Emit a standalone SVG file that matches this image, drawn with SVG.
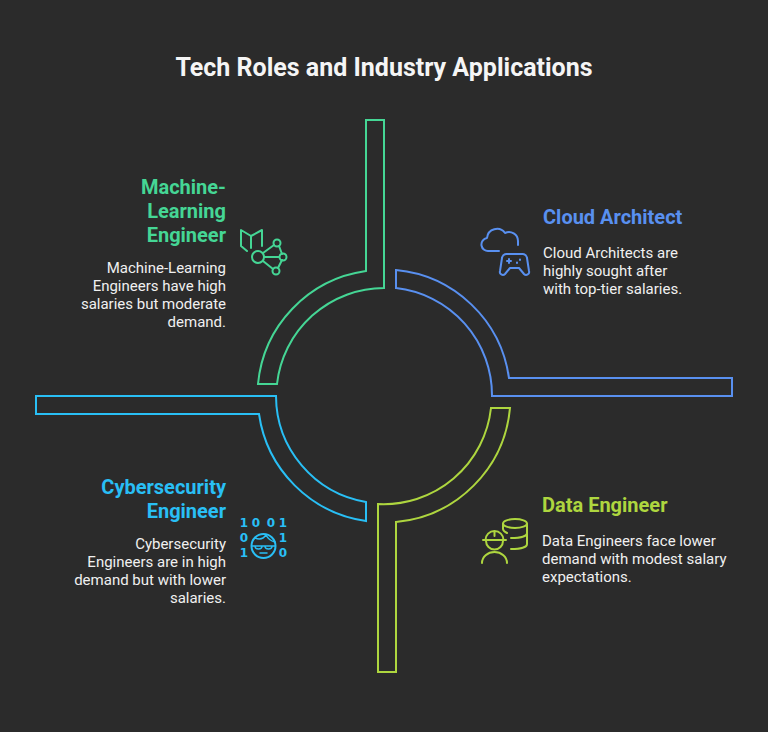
<svg xmlns="http://www.w3.org/2000/svg" width="768" height="732" viewBox="0 0 768 732">
<style>
text{font-family:Roboto,"Liberation Sans",sans-serif}
.t{font-size:25px;font-weight:700;fill:#f5f5f5}
.h{font-size:20px;font-weight:700}
.b{font-size:15px;fill:#f0f0f0}
.e{text-anchor:end}
.s{fill:none;stroke-width:2}
.i{fill:none;stroke-width:2;stroke-linecap:round;stroke-linejoin:round}
.d{font-family:"DejaVu Sans",sans-serif;font-size:12px;font-weight:700;fill:#29bff5;text-anchor:middle}
</style>
<rect width="768" height="732" fill="#2b2b2b"/>
<text class="t" x="384" y="76" text-anchor="middle">Tech Roles and Industry Applications</text>
<g id="connectors">
<path class="s" stroke="#45d695" d="M366 120H384V288A108 108 0 0 0 277 384H258A126 126 0 0 1 366 271Z"/>
<path class="s" stroke="#5990f0" d="M396 270V288A108 108 0 0 1 492 396H732V378H509A126 126 0 0 0 396 270Z"/>
<path class="s" stroke="#aed63f" d="M510 408H491A108 108 0 0 1 378 504V672H396V522A126 126 0 0 0 510 408Z"/>
<path class="s" stroke="#29bff5" d="M36 396H276A108 108 0 0 0 366 502V521A126 126 0 0 1 259 414H36Z"/>
</g>
<g id="node-ml">
<text class="h e" fill="#45d695"><tspan x="226" y="194">Machine-</tspan><tspan x="226" y="218">Learning</tspan><tspan x="226" y="242">Engineer</tspan></text>
<text class="b e"><tspan x="226" y="273">Machine-Learning</tspan><tspan x="226" y="291">Engineers have high</tspan><tspan x="226" y="309">salaries but moderate</tspan><tspan x="226" y="327">demand.</tspan></text>
<g class="i" stroke="#45d695">
<path d="M251 236L241 230V246L247 251M251 236L262 230V246M251 236V248"/>
<circle cx="258" cy="257" r="6"/><circle cx="277" cy="243" r="3.5"/><circle cx="283" cy="257" r="3.5"/><circle cx="276" cy="271" r="3.5"/>
<path d="M264 257H279M263 253L274 245M263 261L273 269M279 246L282 254M282 260L278 268"/>
</g>
</g>
<g id="node-cloud">
<text class="h" fill="#5990f0" x="543" y="224">Cloud Architect</text>
<text class="b"><tspan x="543" y="258">Cloud Architects are</tspan><tspan x="543" y="276">highly sought after</tspan><tspan x="543" y="294">with top-tier salaries.</tspan></text>
<g class="i" stroke="#5990f0">
<path d="M499 251H489A6.500 6.500 0 0 1 487 238A10 10 0 0 1 505 233A9 9 0 0 1 518 241V245"/>
<path d="M507 254H522A4.500 4.500 0 0 1 527 258L529 271A3 3 0 0 1 524 274L519 268H510L505 274A3 3 0 0 1 500 271L502 258A4.500 4.500 0 0 1 507 254Z"/>
<path d="M507 261H511M509 259V263M520 259.500V260M517 262.500V263"/>
</g>
</g>
<g id="node-data">
<text class="h" fill="#aed63f" x="542" y="512">Data Engineer</text>
<text class="b"><tspan x="542" y="546">Data Engineers face lower</tspan><tspan x="542" y="564">demand with modest salary</tspan><tspan x="542" y="582">expectations.</tspan></text>
<g class="i" stroke="#aed63f">
<ellipse cx="515" cy="523.500" rx="12" ry="4.500"/>
<path d="M503 524V529C503 531 505 532 507 533M527 524V544C527 547 521 549 511 549M527 533C527 536 521 538 511 538"/>
<path d="M483 540H506M485.500 540A9 9 0 0 1 503.500 540M494.500 531V536M486 541A8.500 8.500 0 0 0 503 541M482 563A12.500 11 0 0 1 507 563"/>
</g>
</g>
<g id="node-cyber">
<text class="h e" fill="#29bff5"><tspan x="226" y="494">Cybersecurity</tspan><tspan x="226" y="518">Engineer</tspan></text>
<text class="b e"><tspan x="226" y="549">Cybersecurity</tspan><tspan x="226" y="567">Engineers are in high</tspan><tspan x="226" y="585">demand but with lower</tspan><tspan x="226" y="603">salaries.</tspan></text>
<text class="d"><tspan x="244" y="527">1</tspan><tspan x="256" y="527">0</tspan><tspan x="271" y="527">0</tspan><tspan x="283" y="527">1</tspan><tspan x="244" y="542">0</tspan><tspan x="283" y="542">1</tspan><tspan x="244" y="557">1</tspan><tspan x="283" y="557">0</tspan></text>
<g class="i" stroke="#29bff5">
<circle cx="263.500" cy="546" r="12"/>
<path stroke-width="1.500" d="M255 538C260 540 264 538 266 535C268 539 271 541 275 542M252 546H258H269L275 546M255 546A3.500 3 0 0 0 262 546M265 546A3.500 3 0 0 0 272 546M260 553H267"/>
</g>
</g>
</svg>
